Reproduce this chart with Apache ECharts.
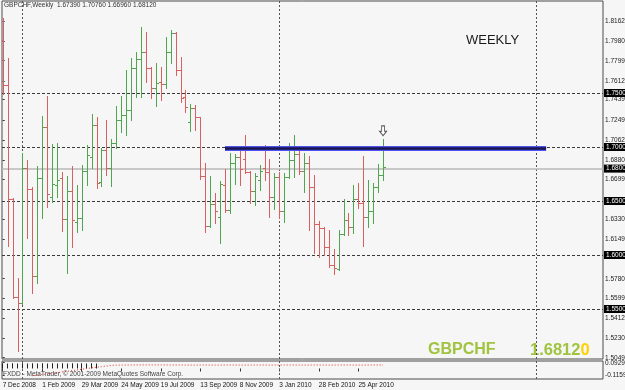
<!DOCTYPE html>
<html><head><meta charset="utf-8">
<script src="https://cdn.jsdelivr.net/npm/echarts@6/dist/echarts.min.js"></script>
<style>html,body{margin:0;padding:0;background:#f6f6f6;overflow:hidden;}#c{width:625px;height:390px;}</style>
</head><body><div id="c"></div>
<script>
// ---- data ----
const symbolName = 'GBPCHF';
const periodName = 'Weekly';
const open = [1.7991,1.7574,1.6516,1.5614,1.5553,1.6803,1.6608,1.5806,1.6710,1.7188,
 1.6537,1.6648,1.6713,1.6333,1.6593,1.6306,1.6343,1.6781,1.6907,1.7204,
 1.6679,1.6972,1.6808,1.7034,1.7250,1.7296,1.7343,1.7729,1.7815,1.7877,
 1.7729,1.7544,1.7602,1.7583,1.7877,1.8053,1.7713,1.7466,1.7231,1.7361,
 1.7278,1.6731,1.6269,1.6469,1.6355,1.6648,1.6417,1.6849,1.6907,1.6886,
 1.6771,1.6593,1.6694,1.6806,1.6771,1.6534,1.6719,1.6410,1.6722,1.6880,
 1.6935,1.6781,1.6849,1.6627,1.6287,1.6247,1.6077,1.5907,1.5868,1.6194,
 1.6324,1.6256,1.6516,1.6479,1.6349,1.6410,1.6627,1.6739];
const high = [1.8192,1.7827,1.6528,1.5790,1.6942,1.6880,1.6632,1.6824,1.7287,1.7472,
 1.7028,1.7034,1.6766,1.6734,1.6827,1.6648,1.6831,1.7019,1.7306,1.7281,
 1.6988,1.7250,1.7071,1.7382,1.7475,1.7713,1.7821,1.7877,1.8114,1.8068,
 1.7744,1.7775,1.7744,1.8021,1.8083,1.8068,1.7831,1.7528,1.7398,1.7389,
 1.7281,1.6849,1.6731,1.6577,1.6685,1.6794,1.6942,1.6935,1.6988,1.7111,
 1.6778,1.6759,1.6833,1.7019,1.6886,1.6756,1.6771,1.6756,1.7034,1.7111,
 1.6981,1.6947,1.6917,1.6741,1.6318,1.6262,1.6231,1.6053,1.6231,1.6516,
 1.6386,1.6648,1.6664,1.6917,1.6694,1.6664,1.6843,1.7076];
const low = [1.7491,1.6086,1.5605,1.5114,1.5546,1.6160,1.5645,1.5738,1.6345,1.6447,
 1.6494,1.6540,1.6225,1.5836,1.6077,1.6210,1.6231,1.6648,1.6803,1.6618,
 1.6642,1.6741,1.6642,1.6988,1.7142,1.7111,1.7250,1.7466,1.7466,1.7605,
 1.7451,1.7380,1.7435,1.7544,1.7775,1.7667,1.7414,1.7327,1.7148,1.7157,
 1.6704,1.6216,1.6262,1.6294,1.6108,1.6401,1.6386,1.6655,1.6648,1.6757,
 1.6479,1.6463,1.6602,1.6694,1.6355,1.6423,1.6345,1.6308,1.6713,1.6725,
 1.6750,1.6586,1.6231,1.6016,1.5984,1.6000,1.5892,1.5824,1.5861,1.6185,
 1.6185,1.6201,1.6432,1.6083,1.6262,1.6294,1.6586,1.6696];
const close = [1.7574,1.6516,1.5614,1.5553,1.6803,1.6608,1.5806,1.6710,1.7188,1.6565,
 1.6655,1.6694,1.6333,1.6593,1.6324,1.6343,1.6781,1.6926,1.7204,1.6664,
 1.6972,1.6808,1.7034,1.7250,1.7296,1.7343,1.7729,1.7815,1.7877,1.7729,
 1.7544,1.7590,1.7583,1.7877,1.8053,1.7713,1.7456,1.7370,1.7361,1.7278,
 1.6731,1.6269,1.6469,1.6407,1.6655,1.6417,1.6849,1.6907,1.6794,1.6771,
 1.6593,1.6731,1.6778,1.6769,1.6534,1.6719,1.6410,1.6719,1.6880,1.6935,
 1.6781,1.6849,1.6627,1.6287,1.6247,1.6077,1.5907,1.5877,1.6194,1.6324,
 1.6256,1.6516,1.6479,1.6349,1.6410,1.6627,1.6741,1.6812];
// week index of the x-axis date labels and their texts
const dateTickIdx = [0,8,16,24,32,40,48,56,64,72];
const dateTickText = ['7 Dec 2008','1 Feb 2009','29 Mar 2009','24 May 2009','19 Jul 2009',
 '13 Sep 2009','8 Nov 2009','3 Jan 2010','28 Feb 2010','25 Apr 2010'];
// price scale tick labels
const priceTicks = [1.81620,1.79800,1.77990,1.76120,1.74395,1.72490,1.70620,1.68805,1.66990,
 1.63300,1.61490,1.57805,1.55990,1.54120,1.52300,1.50490];
// horizontal level lines and year separators
const levels = [1.75, 1.70, 1.65, 1.60, 1.55];
const yearStartIdx = [4, 56, 108];
// thick blue resistance line
const resistStart = 45, resistEnd = 110, resistValue = 1.6987;
// indicator sub-window
const indTicks = [0.09294, -0.11592];
const indLine = [null,null,null,null,null,null,-0.116,-0.108,-0.098,-0.088,
 -0.076,-0.066,-0.056,-0.046,-0.034,-0.024,-0.012,-0.002,0.010,0.020,
 0.030,0.040,0.050,0.054,0.055,0.056,0.056,0.057,0.057,0.058,
 0.058,0.058,0.057,0.057,0.056,0.056,0.056,0.055,0.055,0.055,
 0.056,0.056,0.055,0.055,0.055,0.056,0.056,0.056,0.055,0.055,
 0.055,0.056,0.056,0.056,0.055,0.055,0.055,0.056,0.056,0.056,
 0.055,0.055,0.055,0.056,0.056,0.055,0.055,0.055,0.056,0.056,
 0.056,0.055,0.055,0.055,0.056,0.056,0.056,0.056];
const indHist = [0.085,0.08,0.085,0.08,0.085,0.08,0.085,0.08,0.085,0.08,
 0.085,0.08,0.085,0.08,0.085,0.08,0.085,0.08,0.085,0.08];

// ---- scales (axis ranges) ----
const X_MIN = -0.142, X_MAX = 121.52;
const Y_MIN = 1.50370, Y_MAX = 1.83519;
const IND_MIN = -0.1702, IND_MAX = 0.1209;

const RED = '#d96060', GREEN = '#4fa64f';
const FONT = 'Liberation Sans, Arial, sans-serif';
const last = open.length - 1;
const ohlc = open.map((o, i) => [i, o, high[i], low[i], close[i]]);

const chart = echarts.init(document.getElementById('c'));
const boxLabel = {show:true, position:'end', distance:1, formatter: p => p.value.toFixed(5),
  backgroundColor:'#000', color:'#fff', fontSize:6.5, fontFamily:FONT, padding:[1,2,0,2]};

chart.setOption({
  animation:false,
  backgroundColor:'#f6f6f6',
  grid:[
    {left:2, top:1, width:601, height:358, show:true, borderColor:'#4a4a4a', borderWidth:1,
     backgroundColor:'transparent', outerBoundsMode:'none', containLabel:false},
    {left:2, top:361, width:601, height:18, show:true, borderColor:'#4a4a4a', borderWidth:1,
     backgroundColor:'transparent', outerBoundsMode:'none', containLabel:false}
  ],
  xAxis:[
    {type:'value', gridIndex:0, min:X_MIN, max:X_MAX, show:false},
    {type:'value', gridIndex:1, min:X_MIN, max:X_MAX,
     axisLine:{show:false}, splitLine:{show:false},
     axisTick:{show:true, customValues:dateTickIdx, length:3, lineStyle:{color:'#333'}},
     axisLabel:{customValues:dateTickIdx, formatter: v => dateTickText[dateTickIdx.indexOf(v)] || '',
       align:'left', fontSize:6.5, color:'#111', margin:3, fontFamily:FONT}}
  ],
  yAxis:[
    {type:'value', gridIndex:0, position:'right', min:Y_MIN, max:Y_MAX, scale:true,
     splitLine:{show:false}, axisLine:{show:false},
     axisTick:{show:true, customValues:priceTicks, length:2, lineStyle:{color:'#333'}},
     axisLabel:{customValues:priceTicks, formatter: v => v.toFixed(5), fontSize:6.5, color:'#222', margin:2, fontFamily:FONT}},
    {type:'value', gridIndex:1, position:'right', min:IND_MIN, max:IND_MAX,
     splitLine:{show:false}, axisLine:{show:false},
     axisTick:{show:true, customValues:indTicks, length:2, lineStyle:{color:'#333'}},
     axisLabel:{customValues:indTicks, formatter: v => v.toFixed(5), fontSize:6.5, color:'#222', margin:2, fontFamily:FONT}}
  ],
  graphic:[
    {type:'text', left:4, top:2, style:{text: symbolName + ',' + periodName + '  ' +
      [open[last],high[last],low[last],close[last]].map(v=>v.toFixed(5)).join(' '),
      font:'6.5px ' + FONT, fill:'#333'}},
    {type:'text', left:466, top:34, style:{text:'WEEKLY', font:'13px ' + FONT, fill:'#1a1a1a'}},
    {type:'text', left:428, top:342, style:{text:symbolName, font:'bold 16px ' + FONT, fill:'#a0c440'}},
    {type:'text', left:530, top:342, style:{
      text:'{a|' + close[last].toFixed(5).slice(0,-1) + '}{b|' + close[last].toFixed(5).slice(-1) + '}',
      rich:{a:{font:'bold 16.5px ' + FONT, fill:'#a0c440'}, b:{font:'bold 16.5px ' + FONT, fill:'#ffd000'}}}},
    {type:'text', left:3, top:371, style:{text:'FXDD - MetaTrader, \u00a9 2001-2009 MetaQuotes Software Corp.',
      font:'6.5px ' + FONT, fill:'#444'}}
  ],
  series:[
    {type:'line', xAxisIndex:0, yAxisIndex:0, data:ohlc.map(d=>[d[0],d[4]]), showSymbol:false,
     lineStyle:{opacity:0}, silent:true, z:1,
     markLine:{silent:true, symbol:'none', z:1, animation:false,
       data:[
         ...levels.map(v => ({yAxis:v, lineStyle:{color:'#3a3a3a', type:[3,2], width:1}, label:boxLabel})),
         ...yearStartIdx.map(v => ({xAxis:v, lineStyle:{color:'#555', type:[2,2], width:1}, label:{show:false}})),
         {yAxis:close[last], lineStyle:{color:'#b8b8b8', type:'solid', width:1.5}, label:boxLabel}
       ]}},
    {type:'custom', xAxisIndex:0, yAxisIndex:0, data:ohlc, z:3, clip:true,
     renderItem:(params, api) => {
       const i = api.value(0);
       const o = api.coord([i, api.value(1)]);
       const h = api.coord([i, api.value(2)]);
       const l = api.coord([i, api.value(3)]);
       const c = api.coord([i, api.value(4)]);
       const col = api.value(4) >= api.value(1) ? GREEN : RED;
       const x = Math.round(h[0]) + 0.5;
       const oy = Math.round(o[1]) + 0.5, cy = Math.round(c[1]) + 0.5;
       return {type:'group', children:[
         {type:'line', shape:{x1:x, y1:Math.round(h[1]), x2:x, y2:Math.round(l[1])+1}, style:{stroke:col, lineWidth:1}},
         {type:'line', shape:{x1:x-2.5, y1:oy, x2:x, y2:oy}, style:{stroke:col, lineWidth:1}},
         {type:'line', shape:{x1:x, y1:cy, x2:x+2.5, y2:cy}, style:{stroke:col, lineWidth:1}}
       ]};
     },
     markPoint:{silent:true, z:6, data:[{coord:[last, high[last]], symbol:'path://M3,0 L7,0 L7,6 L10,6 L5,11 L0,6 L3,6 Z',
       symbolSize:[7,10], symbolOffset:[0,-8], itemStyle:{color:'#fff', borderColor:'#555', borderWidth:1}, label:{show:false}}]}},
    {type:'line', xAxisIndex:0, yAxisIndex:0, data:[[resistStart, resistValue]], showSymbol:false,
     lineStyle:{opacity:0}, silent:true, z:5,
     markLine:{silent:true, symbol:'none', z:6, animation:false, label:{show:false},
       data:[
         [{coord:[resistStart, resistValue], lineStyle:{color:'#5050f0', width:5, type:'solid'}}, {coord:[resistEnd, resistValue]}],
         [{coord:[resistStart, resistValue], lineStyle:{color:'#16164e', width:2.5, type:'solid'}}, {coord:[resistEnd, resistValue]}]
       ]}},
    {type:'line', xAxisIndex:1, yAxisIndex:1, data:indHist.map((v,i)=>[i,v]), showSymbol:false,
     lineStyle:{opacity:0}, silent:true, z:2,
     markLine:{silent:true, symbol:'none', z:2, animation:false, label:{show:false},
       data: indHist.map((v,i) => [{coord:[i,0], lineStyle:{color:'#222', width:1, type:'solid'}}, {coord:[i,v]}])}},
    {type:'line', xAxisIndex:1, yAxisIndex:1, data:indLine.map((v,i)=>[i,v]), showSymbol:false,
     lineStyle:{color:'#e03030', width:1, type:[1,2]}, silent:true, z:3,
     markLine:{silent:true, symbol:'none', z:1, animation:false, label:{show:false},
       data: yearStartIdx.map(v => ({xAxis:v, lineStyle:{color:'#555', type:[2,2], width:1}}))}}
  ]
});
</script></body></html>
